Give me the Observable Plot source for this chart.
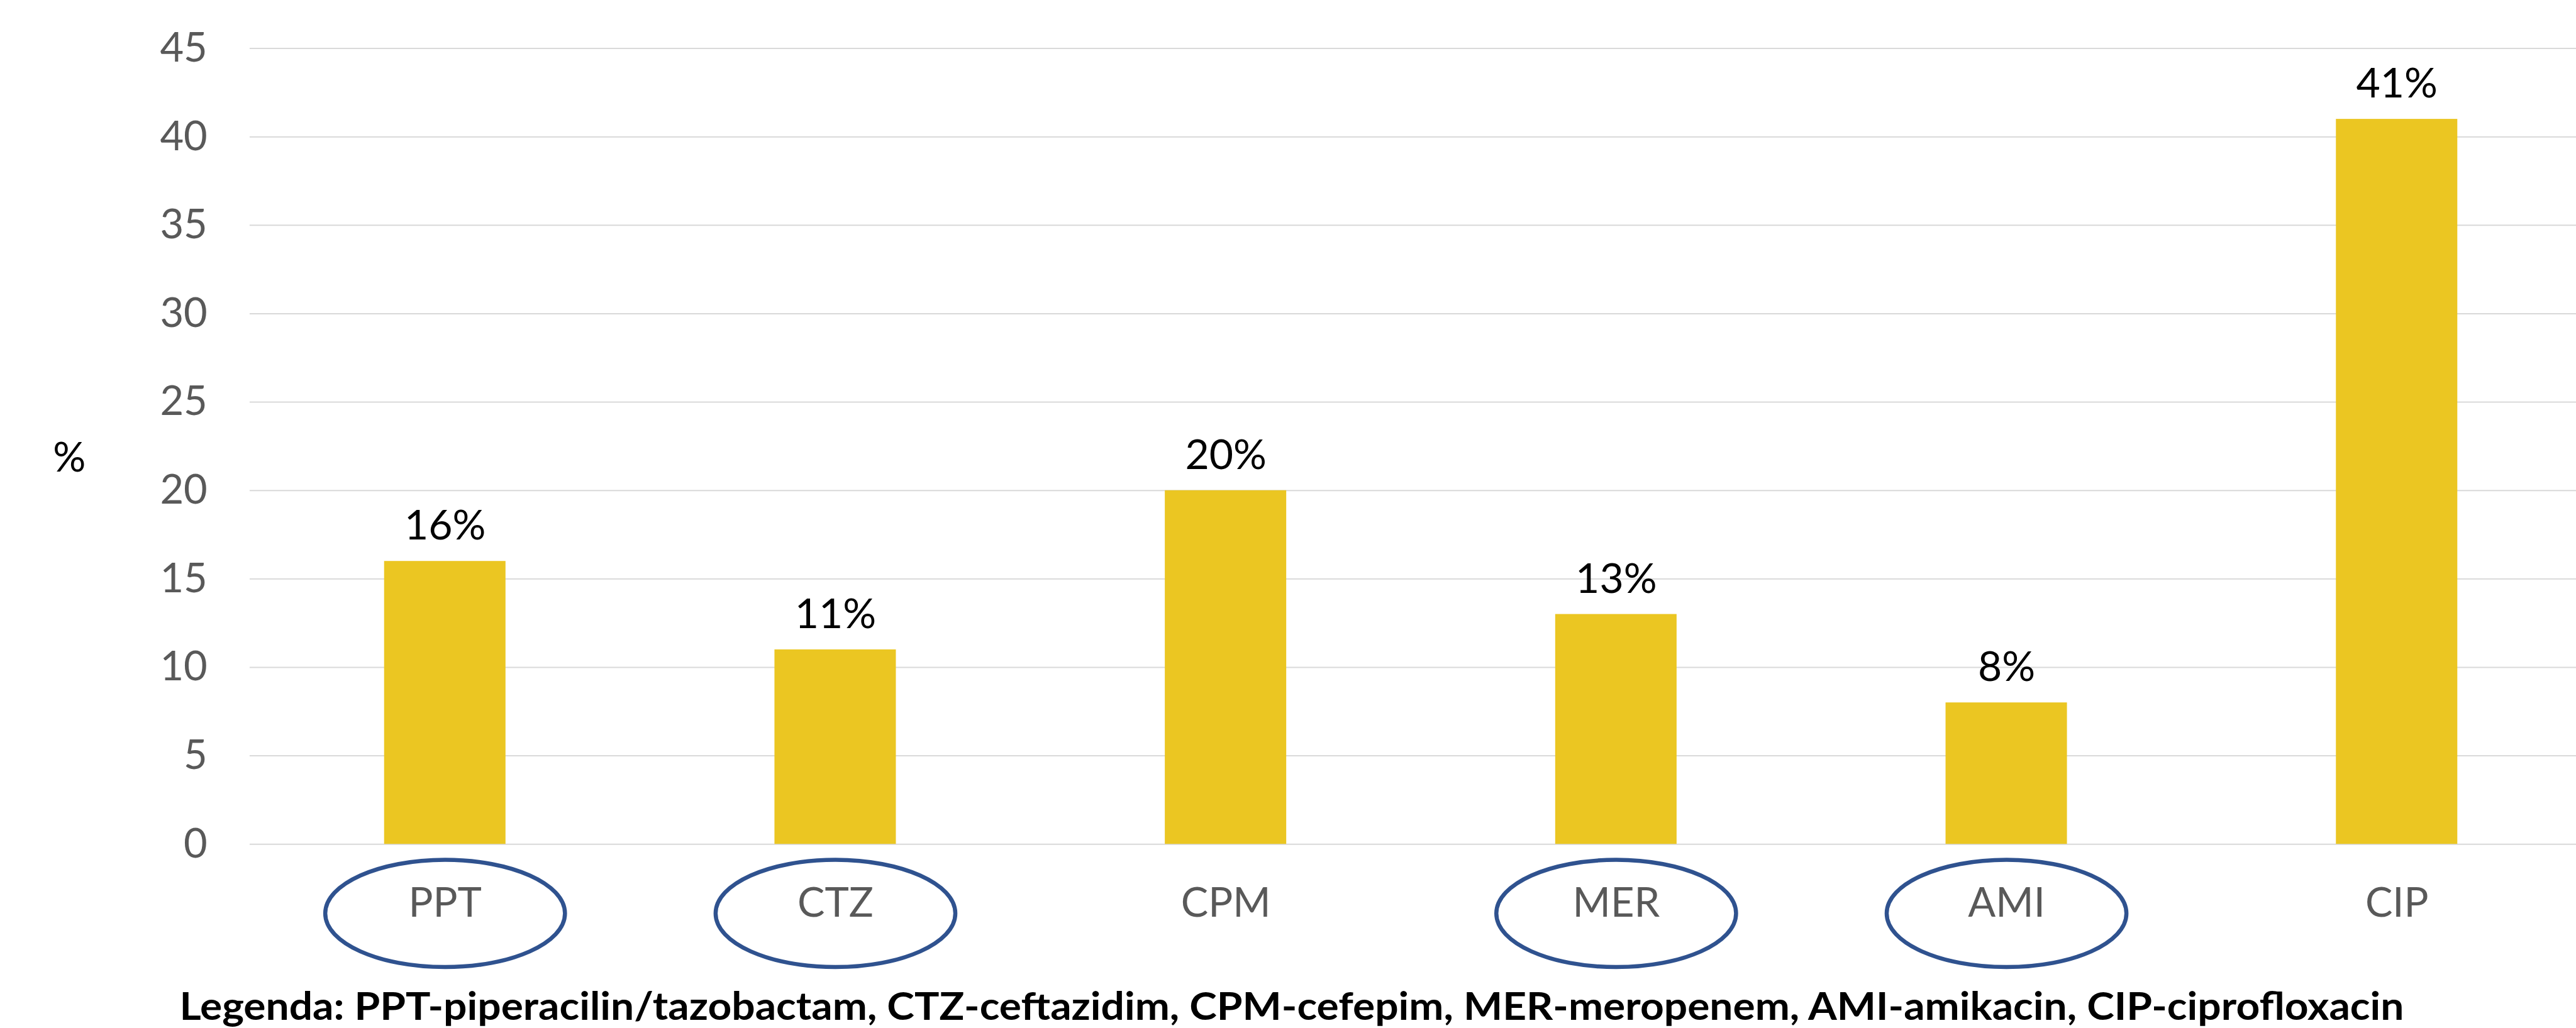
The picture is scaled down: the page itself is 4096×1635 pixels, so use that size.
<!DOCTYPE html>
<html>
<head>
<meta charset="utf-8">
<script src="https://cdn.jsdelivr.net/npm/d3@7"></script>
<script src="https://cdn.jsdelivr.net/npm/@observablehq/plot@0.6"></script>
<style>
  html, body { margin: 0; padding: 0; background: #fff; overflow: hidden; }
  #chart svg { display: block; }
  #legend { display: block; }
</style>
</head>
<body>
<div id="chart"></div>
<svg id="legend" width="4096" height="75" xmlns="http://www.w3.org/2000/svg"></svg>
<script>
// ---- data ----
const categories = ["PPT", "CTZ", "CPM", "MER", "AMI", "CIP"];
const values = [16, 11, 20, 13, 8, 41];
const circled = ["PPT", "CTZ", "MER", "AMI"];
const yTicks = [0, 5, 10, 15, 20, 25, 30, 35, 40, 45];
const yLabel = "%";
const legendText = "Legenda: PPT-piperacilin/tazobactam, CTZ-ceftazidim, CPM-cefepim, MER-meropenem, AMI-amikacin, CIP-ciprofloxacin";

const data = categories.map((c, i) => ({name: c, value: values[i]}));

// ---- layout constants (output px) ----
const W = 4096, H = 1560;
const ML = 396.9, MT = 76.6, AXIS_Y = 1342.2;
const RX = 190.6, RY = 85.3;

const ellipseSymbol = {
  draw(ctx) {
    const k = 0.5522847498, a = RX, b = RY;
    ctx.moveTo(a, 0);
    ctx.bezierCurveTo(a, b * k, a * k, b, 0, b);
    ctx.bezierCurveTo(-a * k, b, -a, b * k, -a, 0);
    ctx.bezierCurveTo(-a, -b * k, -a * k, -b, 0, -b);
    ctx.bezierCurveTo(a * k, -b, a, -b * k, a, 0);
    ctx.closePath();
  }
};

const chart = Plot.plot({
  width: W,
  height: H,
  marginLeft: ML,
  marginRight: 0,
  marginTop: MT,
  marginBottom: H - AXIS_Y,
  style: {fontFamily: "Lato, 'Open Sans', sans-serif", background: "white"},
  x: {type: "band", domain: categories, range: [396.9, 4121.1], paddingInner: 0.689, paddingOuter: 0.3445, round: false, axis: null},
  y: {domain: [0, 45], axis: null},
  marks: [
    Plot.ruleY(yTicks, {stroke: "#D9D9D9", strokeWidth: 2}),
    Plot.barY(data, {x: "name", y: "value", fill: "#EBC622"}),
    Plot.axisY({ticks: yTicks, tickSize: 0, tickPadding: 67.6, fontSize: 65, fill: "#595959", label: null, textAnchor: "end"}),
    Plot.text([yLabel], {frameAnchor: "left", dx: -287.2, dy: 40.4, lineAnchor: "bottom", textAnchor: "middle", fontSize: 65, fill: "#000"}),
    Plot.text(data, {x: "name", y: "value", text: d => d.value + "%", dy: -34.5, lineAnchor: "bottom", textAnchor: "middle", fontSize: 66, fill: "#000"}),
    Plot.text(categories, {x: d => d, frameAnchor: "bottom", dy: 114.9, lineAnchor: "bottom", textAnchor: "middle", fontSize: 65, fill: "#595959"}),
    Plot.dot(circled, {x: d => d, frameAnchor: "bottom", dy: 110.1, symbol: ellipseSymbol, r: 10, stroke: "#2F528F", strokeWidth: 6.5, fill: "none"})
  ]
});
document.getElementById("chart").appendChild(chart);

// ---- legend below the chart ----
const lg = d3.select("#legend");
lg.append("text")
  .attr("x", 285.5)
  .attr("y", 62)
  .attr("font-family", "Lato, 'Open Sans', sans-serif")
  .attr("font-weight", "bold")
  .attr("font-size", 62)
  .attr("fill", "#000")
  .attr("textLength", 3537)
  .attr("lengthAdjust", "spacingAndGlyphs")
  .text(legendText);
</script>
</body>
</html>
